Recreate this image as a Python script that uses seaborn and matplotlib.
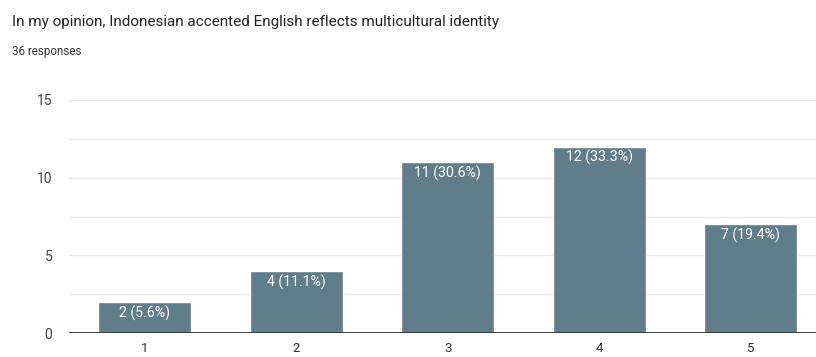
import matplotlib
matplotlib.use("Agg")
import matplotlib.pyplot as plt
import seaborn as sns
import pandas as pd
from matplotlib.transforms import offset_copy

categories = ["1", "2", "3", "4", "5"]
counts = [2, 4, 11, 12, 7]
percents = ["5.6%", "11.1%", "30.6%", "33.3%", "19.4%"]
yticks = [0, 5, 10, 15]
title = "In my opinion, Indonesian accented English reflects multicultural identity"
subtitle = "36 responses"

sns.set_theme(style="white")
plt.rcParams['font.family'] = ['Roboto', 'DejaVu Sans']

df = pd.DataFrame({"cat": categories, "count": counts})

fig = plt.figure(figsize=(8.16, 3.57), dpi=100)
ax = fig.add_axes([0.0846, 0.0672, 0.9283, 0.6527])

sns.barplot(data=df, x="cat", y="count", color="#607d8b", width=0.614,
            saturation=1, ax=ax, zorder=3)

ax.set_ylim(0, 15)
ax.set_xlim(-0.5, 4.5)
for v in [2.5, 5, 7.5, 10, 12.5, 15]:
    ax.axhline(v, color="#e8e8e8", lw=1, zorder=1)
ax.axhline(0, color="#333333", lw=1.3, zorder=4)
ax.set_yticks(yticks)
ax.set_yticklabels([str(t) for t in yticks])
ax.tick_params(axis="y", length=0, pad=12, labelsize=10, labelcolor="#444444")
ax.tick_params(axis="x", length=0, pad=6.5, labelsize=9.5, labelcolor="#333333")
ax.set_xlabel("")
ax.set_ylabel("")
for s in ax.spines.values():
    s.set_visible(False)

for i, (c, p) in enumerate(zip(counts, percents)):
    tr = offset_copy(ax.transData, fig=fig, x=0, y=-11, units="dots")
    ax.text(i, c, f"{c} ({p})", transform=tr, ha="center", va="center",
            color="white", fontsize=10.2, zorder=5)

fig.text(12/816, 1 - 22/357, title, ha="left", va="center", fontsize=11.0, color="#222222")
fig.text(12/816, 1 - 51/357, subtitle, ha="left", va="center", fontsize=8.4, color="#333333")

fig.savefig("out.png", dpi=100)
